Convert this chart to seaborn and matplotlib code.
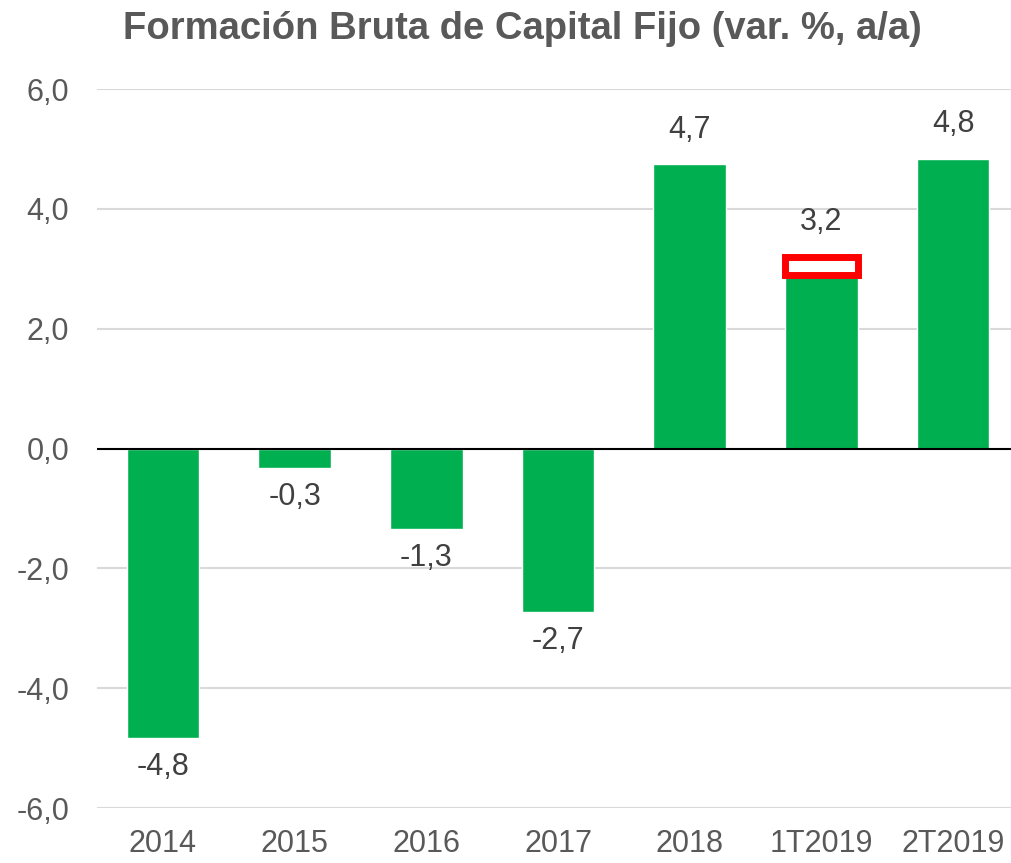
import numpy as np
import pandas as pd
import matplotlib
matplotlib.use('Agg')
import matplotlib.pyplot as plt
import seaborn as sns

categories = ['2014', '2015', '2016', '2017', '2018', '1T2019', '2T2019']
values = [-4.84, -0.33, -1.34, -2.73, 4.74, 3.2, 4.84]
# 1T2019 bar: green part up to 2.9, red-outlined revision on top up to 3.2
green_values = [-4.84, -0.33, -1.34, -2.73, 4.74, 2.9, 4.84]
revision_base = 2.9
revision_top = 3.2
yticks = [-6, -4, -2, 0, 2, 4, 6]

sns.set_style('white')
plt.rcParams['font.family'] = ['Liberation Sans', 'DejaVu Sans']

df = pd.DataFrame({'cat': categories, 'val': green_values})

fig = plt.figure(figsize=(10.11, 8.63), dpi=100)
ax = fig.add_axes([97 / 1011, 55 / 863, 922 / 1011, 719 / 863])

ax.set_axisbelow(True)
for t in yticks:
    if t != 0:
        ax.axhline(t, color='#d9d9d9', lw=1.5, zorder=0)

sns.barplot(data=df, x='cat', y='val', color='#00B050', width=0.55,
            saturation=1, ax=ax, zorder=2)

i_rev = categories.index('1T2019')
ax.bar(i_rev, revision_top - revision_base, bottom=revision_base, width=0.55,
       color='white', edgecolor='#ff0000', linewidth=5, zorder=3)

ax.axhline(0, color='black', lw=1.5, zorder=4)

for i, v in enumerate(values):
    txt = f'{v:.1f}'.replace('.', ',')
    if v >= 0:
        ax.annotate(txt, (i, v), xytext=(0, 14), textcoords='offset points',
                    ha='center', va='bottom', fontsize=22, color='#404040')
    else:
        ax.annotate(txt, (i, v), xytext=(0, -10), textcoords='offset points',
                    ha='center', va='top', fontsize=22, color='#404040')

ax.set_ylim(-6, 6)
ax.set_xlim(-0.5, 6.5)
ax.set_yticks(yticks)
ax.set_yticklabels([f'{t:.1f}'.replace('.', ',') for t in yticks])
ax.tick_params(axis='both', length=0, labelsize=22, colors='#595959')
ax.tick_params(axis='y', pad=20)
ax.tick_params(axis='x', pad=15)
ax.set_xlabel('')
ax.set_ylabel('')
for s in ax.spines.values():
    s.set_visible(False)

fig.text(0.517, 0.966, 'Formación Bruta de Capital Fijo (var. %, a/a)',
         ha='center', va='center', fontsize=27.5, fontweight='bold',
         color='#595959')

fig.savefig('out.png', dpi=100)
